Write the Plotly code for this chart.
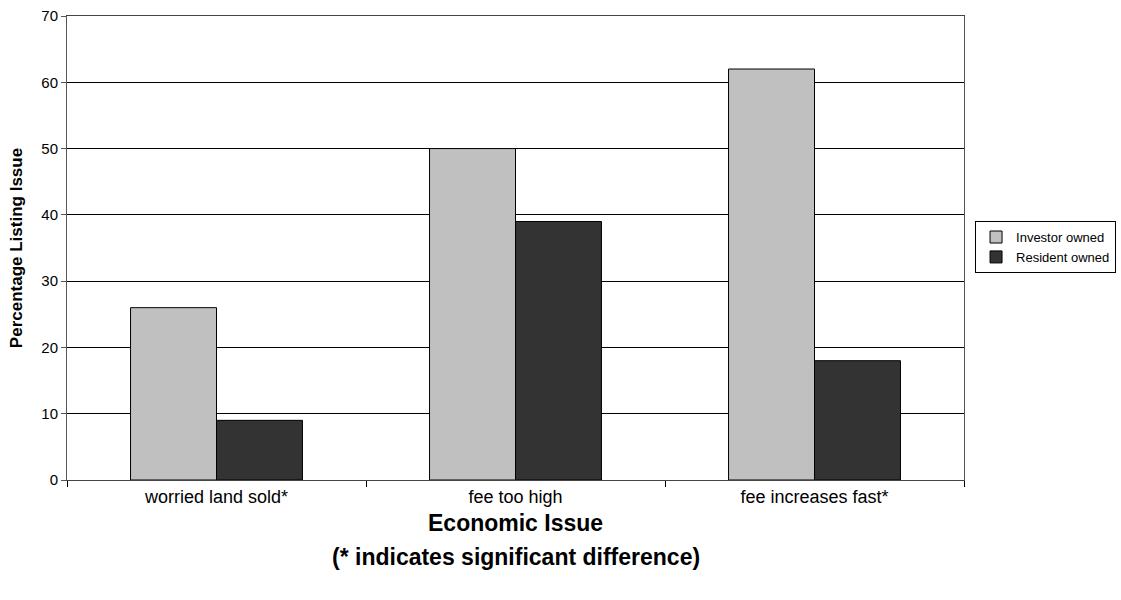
import plotly.graph_objects as go

categories = ["worried land sold*", "fee too high", "fee increases fast*"]
investor = [26, 50, 62]
resident = [9, 39, 18]
y_ticks = [0, 10, 20, 30, 40, 50, 60, 70]
x_title_lines = ["Economic Issue", "(* indicates significant difference)"]
y_title = "Percentage Listing Issue"

fig = go.Figure()
fig.add_trace(go.Bar(name="Investor owned", x=categories, y=investor,
                     marker=dict(color="#c0c0c0", line=dict(color="#000000", width=1))))
fig.add_trace(go.Bar(name="Resident owned", x=categories, y=resident,
                     marker=dict(color="#333333", line=dict(color="#000000", width=1))))

annotations = []
for text, ypos in zip(x_title_lines, [-0.0927, -0.166]):
    annotations.append(dict(text="<b>%s</b>" % text, xref="paper", yref="paper",
                            x=0.5, y=ypos, xanchor="center", yanchor="middle",
                            showarrow=False, font=dict(size=23, color="#000000")))

fig.update_layout(
    width=1121, height=600,
    margin=dict(l=67, r=157, t=16, b=120, autoexpand=False),
    paper_bgcolor="white", plot_bgcolor="white",
    barmode="group", bargap=0.425, bargroupgap=0,
    font=dict(family="Arial, Liberation Sans, sans-serif", color="#000000", size=15),
    showlegend=True,
    legend=dict(x=1.1695, y=0.502, xanchor="right", yanchor="middle",
                bordercolor="#000000", borderwidth=1, bgcolor="white",
                font=dict(size=13), tracegroupgap=0, itemwidth=30),
    annotations=annotations,
    xaxis=dict(
        tickson="boundaries", ticks="outside", ticklen=6, tickcolor="#000000",
        showline=True, linecolor="#444444", linewidth=1, mirror=True,
        showgrid=False, tickfont=dict(size=18), automargin=False,
    ),
    yaxis=dict(
        range=[0, 70], tickvals=y_ticks, ticks="outside", ticklen=5, tickcolor="#555555",
        showline=True, linecolor="#555555", linewidth=1, mirror=True,
        showgrid=True, gridcolor="#000000", gridwidth=1,
        tickfont=dict(size=15), automargin=False,
        title=dict(text="<b>%s</b>" % y_title, font=dict(size=17), standoff=14),
    ),
)

fig.write_html("out.html", config={"displayModeBar": False},
               post_script="document.body.style.margin='0';")
